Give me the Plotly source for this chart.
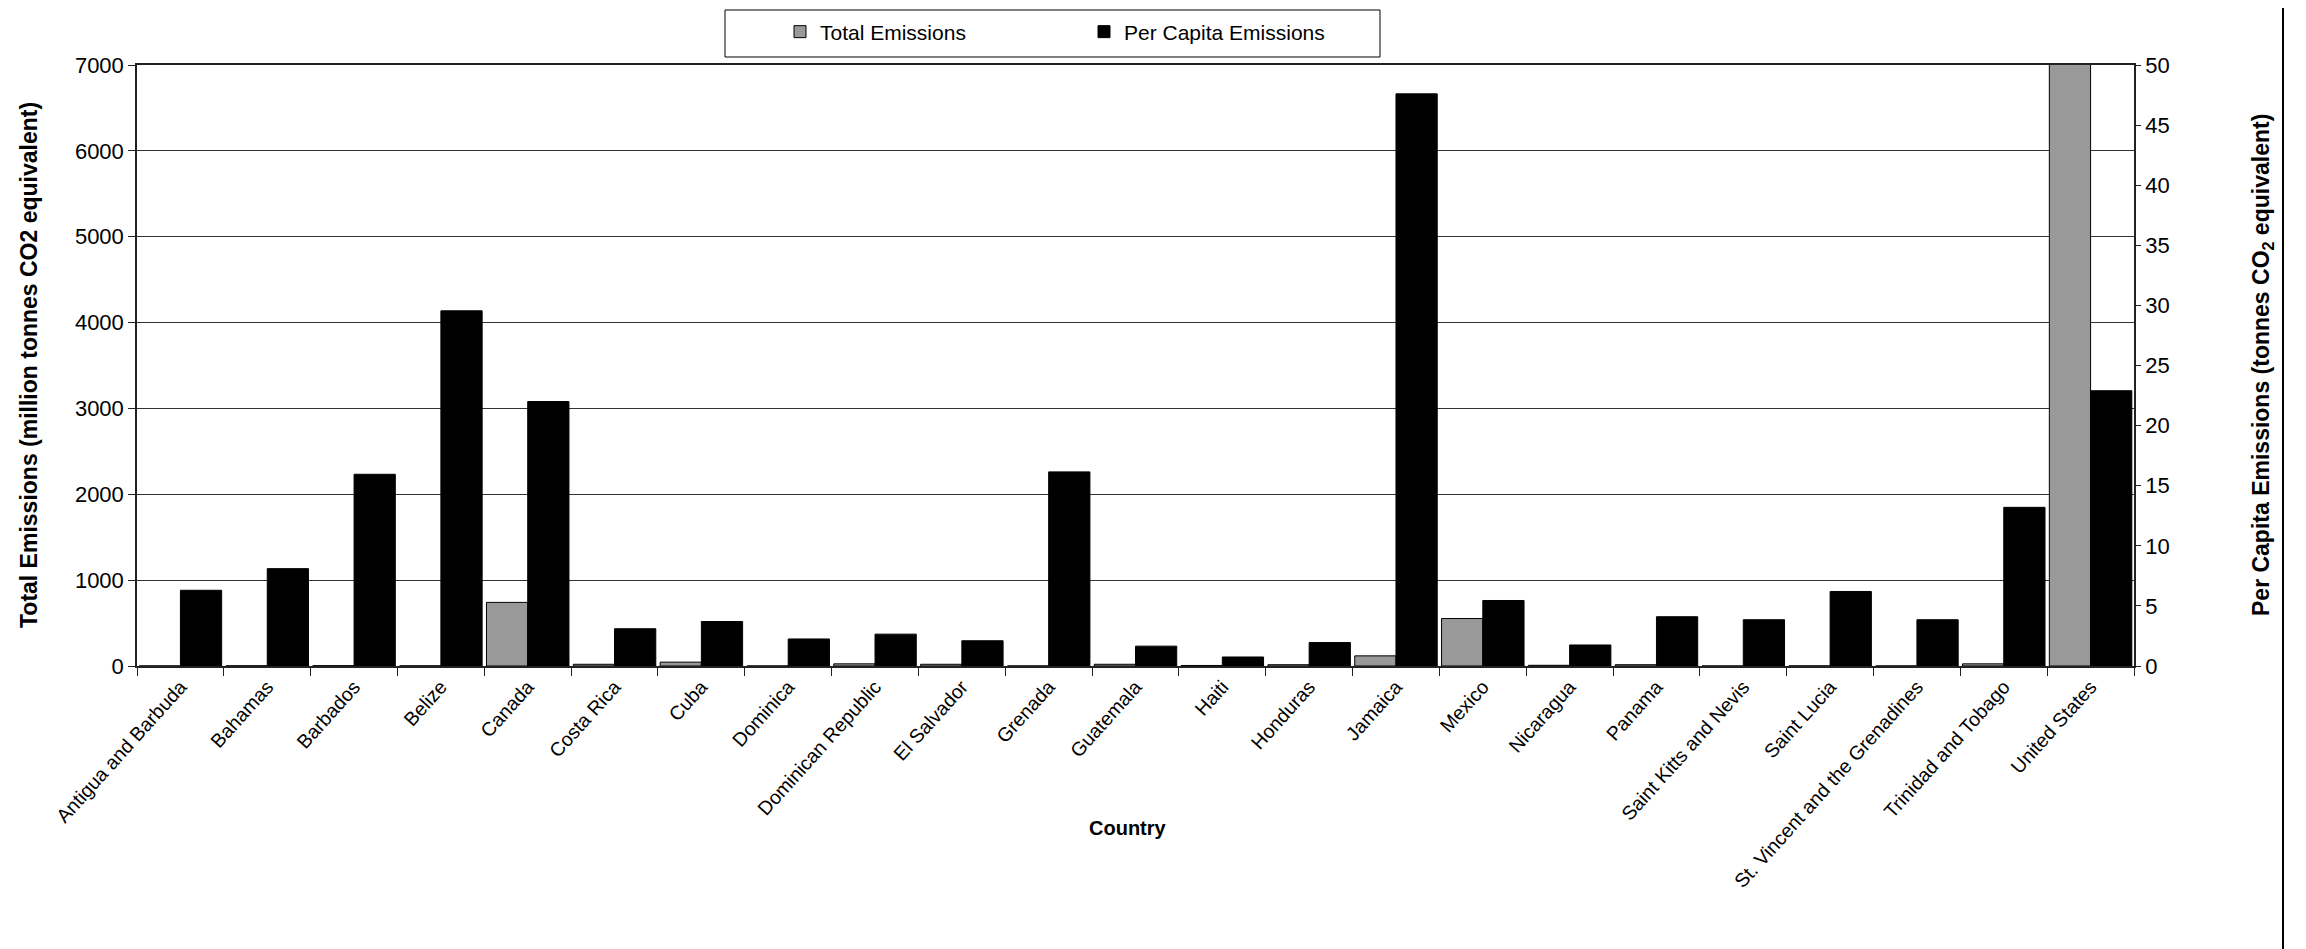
import plotly.graph_objects as go

countries = [
    "Antigua and Barbuda", "Bahamas", "Barbados", "Belize", "Canada",
    "Costa Rica", "Cuba", "Dominica", "Dominican Republic", "El Salvador",
    "Grenada", "Guatemala", "Haiti", "Honduras", "Jamaica", "Mexico",
    "Nicaragua", "Panama", "Saint Kitts and Nevis", "Saint Lucia",
    "St. Vincent and the Grenadines", "Trinidad and Tobago", "United States",
]
total_emissions = [
    0.8, 2.5, 3.5, 1.5, 741, 20, 45, 0.3, 25, 20, 0.5, 20,
    6, 15, 118, 553, 8, 15, 0.3, 1, 0.5, 25, 7050,
]
per_capita_emissions = [
    6.3, 8.1, 15.95, 29.55, 22.0, 3.1, 3.7, 2.25, 2.65, 2.1, 16.15, 1.65,
    0.75, 1.95, 47.6, 5.45, 1.75, 4.1, 3.85, 6.2, 3.85, 13.2, 22.9,
]
left_tick_values = list(range(0, 7001, 1000))
right_tick_values = list(range(0, 51, 5))

# The page body adds an 8px margin, so the figure is drawn 8px smaller
# and every target position is shifted by that offset.
OFF = 8
W, H = 2306 - OFF, 949 - OFF
PLOT_L, PLOT_R, PLOT_T, PLOT_B = 137, 2134, 65, 666  # target page pixels
L = PLOT_L - OFF
T = PLOT_T - OFF
R = W - (PLOT_R - OFF)
B = H - (PLOT_B - OFF)
PW = W - L - R
PH = H - T - B
FONT = "Liberation Sans, Arial, Helvetica, sans-serif"


def px_x(p):
    return (p - PLOT_L) / PW


def px_y(p):
    return (PLOT_B - p) / PH


fig = go.Figure()
fig.add_trace(go.Bar(
    x=countries, y=total_emissions, name="Total Emissions",
    marker=dict(color="#999999", line=dict(color="#000000", width=1)),
    width=0.475, offset=-0.475, yaxis="y",
))
fig.add_trace(go.Bar(
    x=countries, y=per_capita_emissions, name="Per Capita Emissions",
    marker=dict(color="#000000", line=dict(color="#000000", width=1)),
    width=0.475, offset=0, yaxis="y2",
))

fig.update_layout(
    width=W, height=H,
    margin=dict(l=L, r=R, t=T, b=B, autoexpand=False),
    paper_bgcolor="white", plot_bgcolor="white",
    font=dict(family=FONT, color="black", size=21),
    barmode="overlay",
    showlegend=True,
    legend=dict(
        orientation="h", x=px_x(780), xanchor="left",
        y=px_y(32), yanchor="middle",
        entrywidth=259, entrywidthmode="pixels",
        font=dict(size=21, family=FONT, color="black"),
        bgcolor="rgba(0,0,0,0)", borderwidth=0,
        traceorder="normal",
    ),
    xaxis=dict(
        type="category", showgrid=False,
        showline=True, linecolor="#222222", linewidth=1.5, mirror=True,
        ticks="outside", tickson="boundaries", ticklen=8,
        tickcolor="#222222", tickwidth=1,
        tickangle=-48, tickfont=dict(size=19.5, family=FONT),
        automargin=False,
    ),
    yaxis=dict(
        range=[0, 7000], tickvals=left_tick_values,
        showgrid=True, gridcolor="#333333", gridwidth=1,
        showline=True, linecolor="#222222", linewidth=1.5,
        ticks="outside", ticklen=7, tickcolor="#222222",
        tickfont=dict(size=22, family=FONT),
        zeroline=False, automargin=False,
    ),
    yaxis2=dict(
        range=[0, 50], tickvals=right_tick_values,
        overlaying="y", side="right", showgrid=False,
        showline=True, linecolor="#222222", linewidth=1.5,
        ticks="outside", ticklen=5, tickcolor="#222222",
        tickfont=dict(size=22, family=FONT),
        zeroline=False, automargin=False,
    ),
    shapes=[
        dict(type="rect", xref="paper", yref="paper",
             x0=px_x(725), x1=px_x(1380), y0=px_y(57), y1=px_y(10),
             line=dict(color="black", width=1), fillcolor="rgba(0,0,0,0)"),
        dict(type="line", xref="paper", yref="paper",
             x0=px_x(2283), x1=px_x(2283), y0=px_y(8), y1=px_y(949),
             line=dict(color="black", width=2)),
    ],
    annotations=[
        dict(text="<b>Total Emissions (million tonnes CO2 equivalent)</b>",
             xref="paper", yref="paper", x=px_x(29), y=px_y(365),
             xanchor="center", yanchor="middle", textangle=-90,
             showarrow=False, font=dict(size=23, family=FONT)),
        dict(text="<b>Per Capita Emissions (tonnes CO<sub>2</sub> equivalent)</b>",
             xref="paper", yref="paper", x=px_x(2262), y=px_y(365),
             xanchor="center", yanchor="middle", textangle=-90,
             showarrow=False, font=dict(size=23, family=FONT)),
        dict(text="<b>Country</b>",
             xref="paper", yref="paper", x=px_x(1128), y=px_y(828),
             xanchor="center", yanchor="middle",
             showarrow=False, font=dict(size=20, family=FONT)),
    ],
)

fig.write_html("out.html")
